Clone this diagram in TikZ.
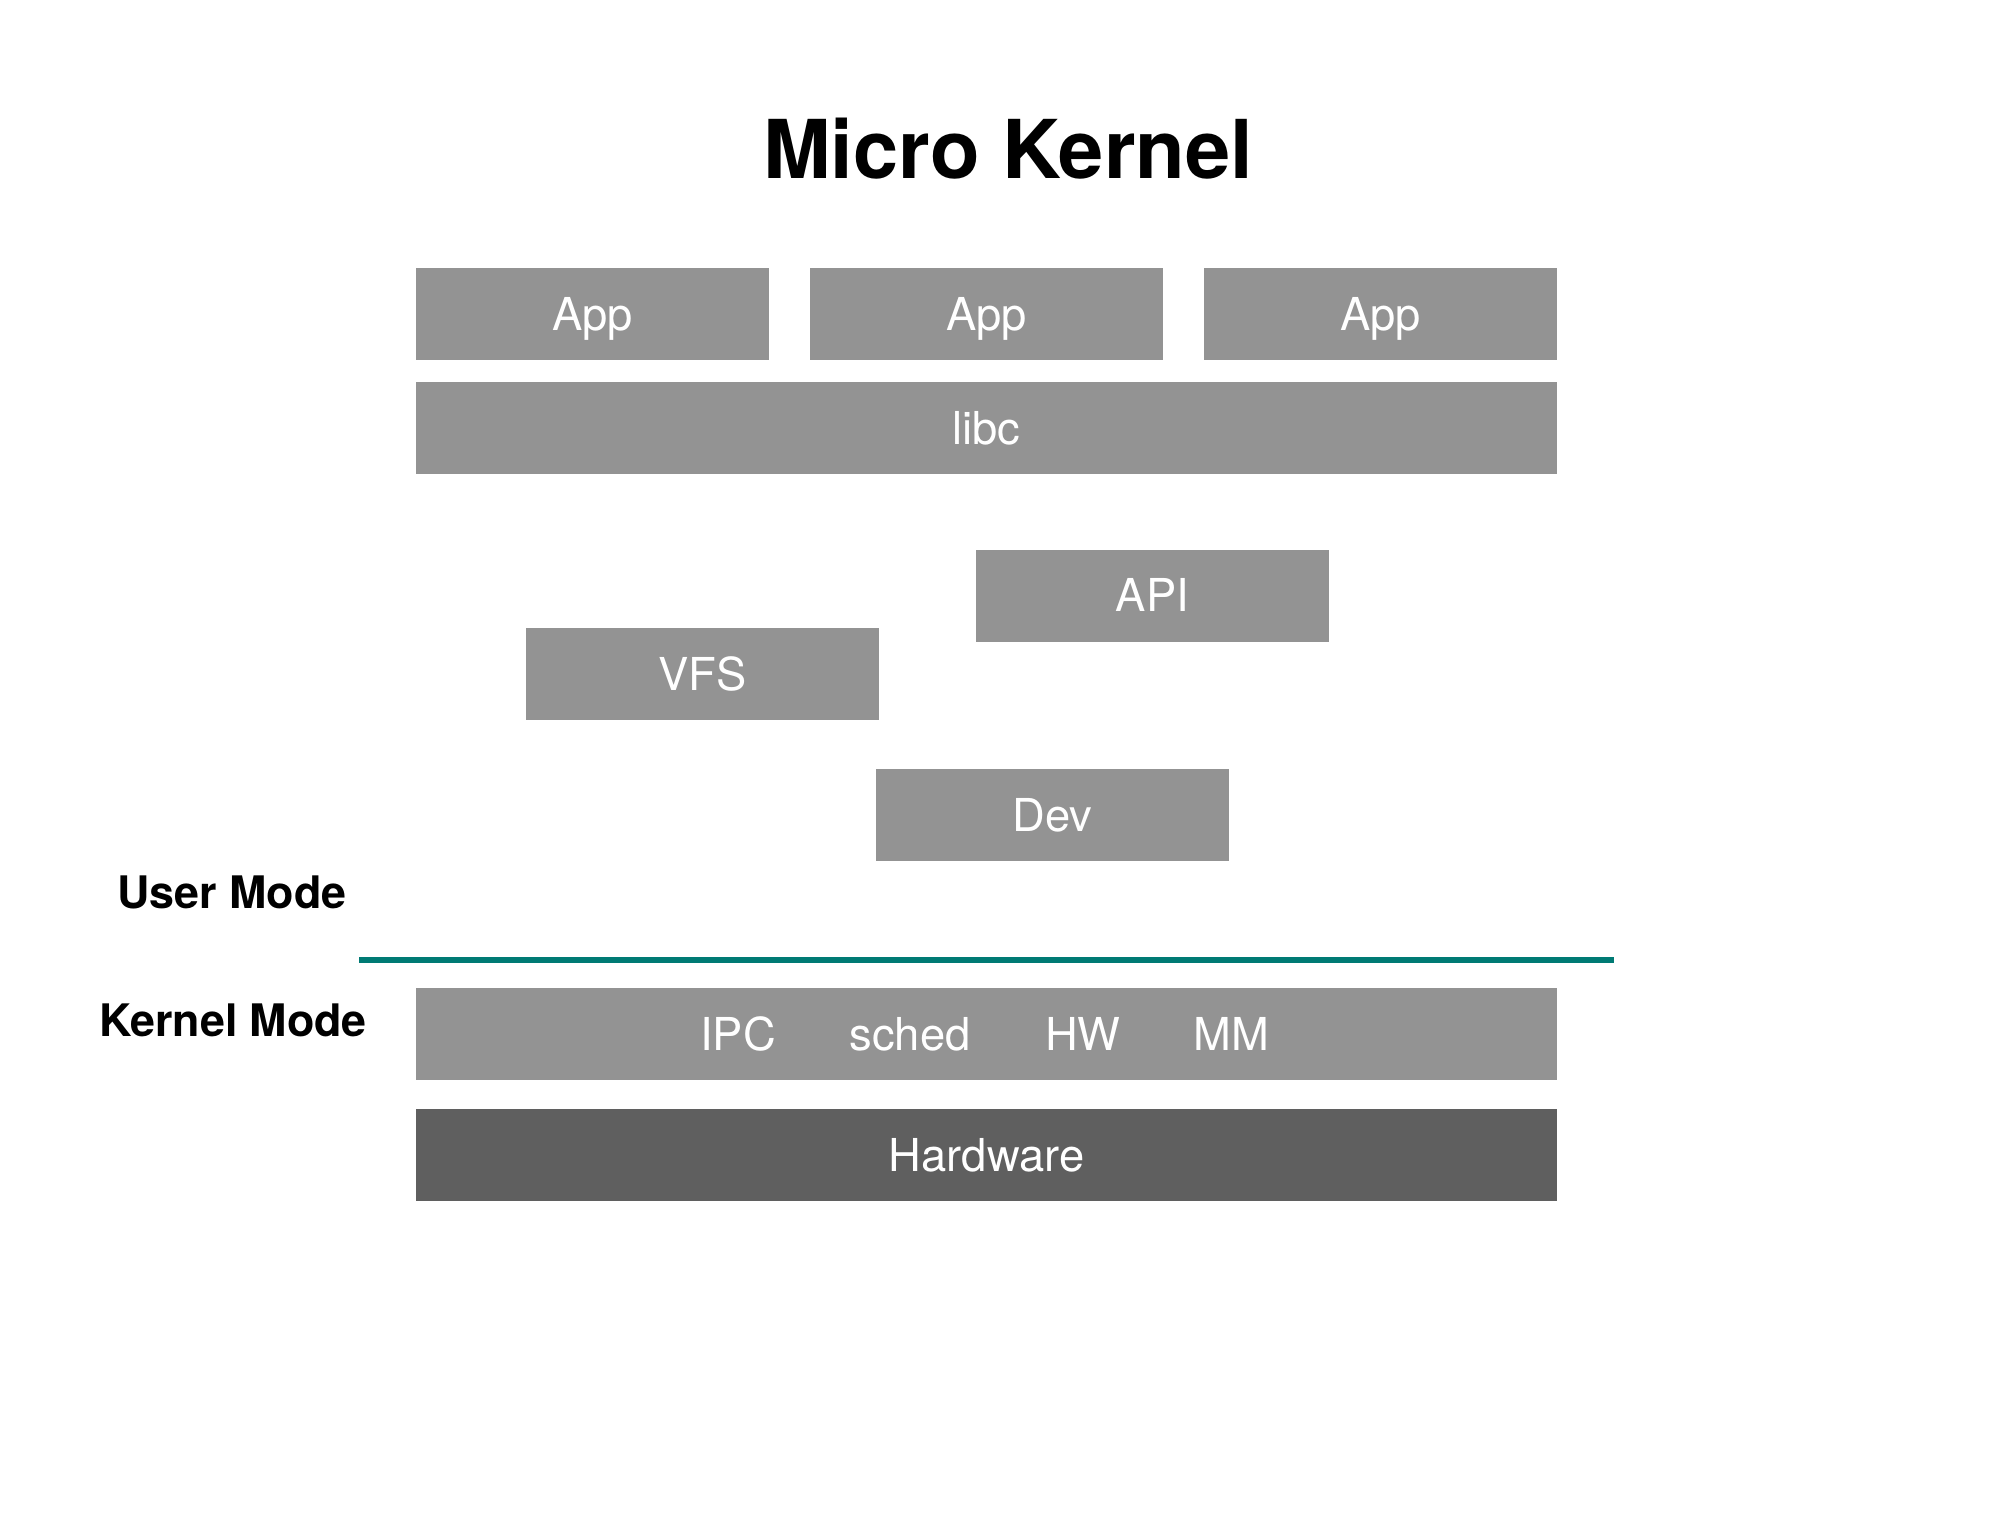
\documentclass[tikz,border=0pt]{standalone}
\usepackage{fontspec}
\setmainfont{TeX Gyre Heros}
\usepackage{tikz}
\definecolor{boxgray}{RGB}{147,147,147}
\definecolor{hwgray}{RGB}{95,95,95}
\definecolor{modeline}{RGB}{0,122,116}

\tikzset{
	layer/.style={fill=boxgray,text=white,inner sep=0pt,minimum width=3.53cm,minimum height=0.92cm,
		text height=0.325cm,text depth=0cm,font=\fontsize{12.9pt}{14pt}\selectfont},
	widelayer/.style={layer,minimum width=11.41cm},
	klabel/.style={text=white,inner sep=0pt,text height=0.325cm,text depth=0cm,font=\fontsize{12.9pt}{14pt}\selectfont},
	modelabel/.style={anchor=base,inner sep=0pt,font=\fontsize{12.75pt}{14pt}\selectfont\bfseries}
}

\begin{document}
\begin{tikzpicture}
	\useasboundingbox (0,0) rectangle (20.10,-15.24);
	\node[anchor=base,inner sep=0pt,font=\fontsize{23.1pt}{26pt}\selectfont\bfseries] (title) at (10.08,-1.78) {Micro Kernel};
	% user space
	\node[layer] (app1) at (5.925,-3.14) {App};
	\node[layer] (app2) at (9.865,-3.14) {App};
	\node[layer] (app3) at (13.805,-3.14) {App};
	\node[widelayer] (libc) at (9.865,-4.28) {libc};
	\node[layer] (api) at (11.525,-5.955) {API};
	\node[layer] (vfs) at (7.025,-6.74) {VFS};
	\node[layer] (dev) at (10.525,-8.15) {Dev};
	% mode boundary
	\node[modelabel] (user) at (2.32,-9.08) {User Mode};
	\coordinate (lineL) at (3.59,-9.60);
	\coordinate (lineR) at (16.14,-9.60);
	\draw[modeline,line width=1.7pt] (lineL) -- (lineR);
	\node[modelabel] (kmode) at (2.33,-10.36) {Kernel Mode};
	% kernel space
	\node[widelayer] (kernel) at (9.865,-10.34) {};
	\node[klabel] (ipc) at (7.38,-10.34) {IPC};
	\node[klabel] (sched) at (9.10,-10.34) {sched};
	\node[klabel] (hw) at (10.83,-10.34) {HW};
	\node[klabel] (mm) at (12.31,-10.34) {MM};
	\node[widelayer,fill=hwgray] (hardware) at (9.865,-11.55) {Hardware};
\end{tikzpicture}
\end{document}
